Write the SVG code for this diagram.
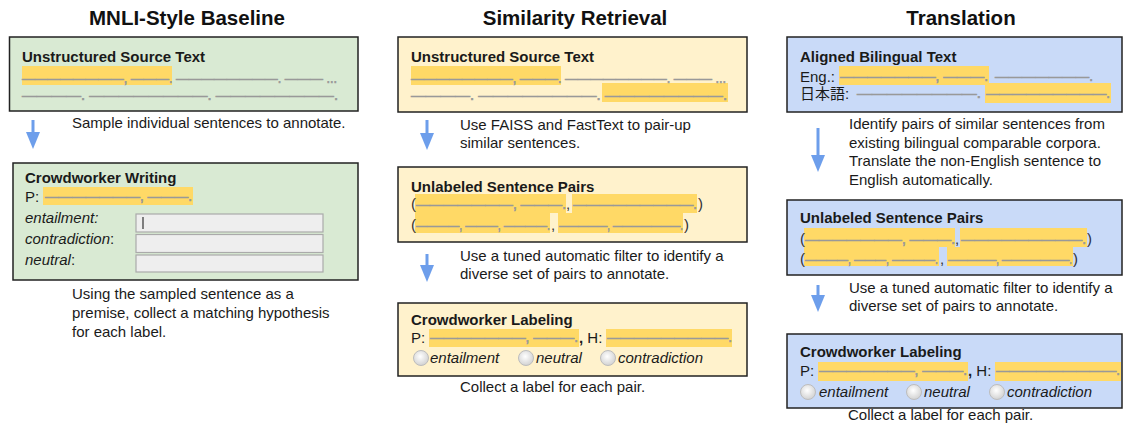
<svg xmlns="http://www.w3.org/2000/svg" width="1129" height="429" viewBox="0 0 1129 429">
<style>
.box{stroke:#222;stroke-width:1.5}
.green{fill:#d9ead3}.yellow{fill:#fff2cc}.blue{fill:#c9daf8}
.hl{fill:#ffd966}
text{font-family:"Liberation Sans",Arial,"Noto Sans CJK JP",sans-serif;font-size:15px;fill:#1a1a1a}
.b{font-weight:bold}
.i{font-style:italic}
.title{font-size:20.5px;font-weight:bold;text-anchor:middle;fill:#111}
.d{fill:#999;stroke:#999;stroke-width:0.7}
.p{fill:#333}
.inp{fill:#eeeeee;stroke:#aaaaaa;stroke-width:1.2}
.radio{fill:url(#rg);stroke:#bdbdbd;stroke-width:1}
.arr{stroke:#6d9eeb;stroke-width:3;fill:none;marker-end:url(#ah)}
</style>
<defs>
<marker id="ah" viewBox="0 0 17 14" refX="0" refY="7" markerWidth="17" markerHeight="14" markerUnits="userSpaceOnUse" orient="auto">
<path d="M0,0 L17,7 L0,14 z" fill="#6d9eeb"/>
</marker>
<radialGradient id="rg" cx="0.45" cy="0.4" r="0.6">
<stop offset="0" stop-color="#ffffff"/>
<stop offset="1" stop-color="#d2d2d2"/>
</radialGradient>
</defs>

<g id="titles">
<text class="title" x="187" y="25">MNLI-Style Baseline</text>
<text class="title" x="575" y="25">Similarity Retrieval</text>
<text class="title" x="961" y="25">Translation</text>
</g>

<g id="connectors">
<line class="arr" x1="33" y1="120" x2="33" y2="132"/>
<line class="arr" x1="427" y1="120" x2="427" y2="133"/>
<line class="arr" x1="427" y1="254" x2="427" y2="265"/>
<line class="arr" x1="818" y1="128" x2="818" y2="155"/>
<line class="arr" x1="818" y1="285" x2="818" y2="295"/>
</g>

<!-- Panel 1 -->
<g id="p1-source">
<rect class="box green" x="9.5" y="37" width="348.5" height="74"/>
<text class="b" x="22" y="62">Unstructured Source Text</text>
<rect class="hl" x="22" y="66" width="150" height="19"/>
<text class="d" x="22" y="83" textLength="315" lengthAdjust="spacingAndGlyphs">————————, ———. ————————. ——— ...</text>
<text class="d" x="22" y="100" textLength="316" lengthAdjust="spacingAndGlyphs">————. ————————. ————————.</text>
</g>
<g id="p1-note1">
<text x="72" y="128">Sample individual sentences to annotate.</text>
</g>
<g id="p1-writing">
<rect class="box green" x="13" y="163" width="345" height="117"/>
<text class="b" x="25" y="183">Crowdworker Writing</text>
<text x="25" y="202">P:</text>
<rect class="hl" x="43" y="187" width="150" height="18"/>
<text class="d" x="45" y="201" textLength="147" lengthAdjust="spacingAndGlyphs">———————, ———.</text>
<text class="i" x="25" y="223">entailment:</text>
<text x="25" y="244"><tspan class="i">contradiction</tspan>:</text>
<text x="25" y="265"><tspan class="i">neutral</tspan>:</text>
<rect class="inp" x="136" y="214" width="187" height="18"/>
<rect class="inp" x="136" y="234.5" width="187" height="18"/>
<rect class="inp" x="136" y="255" width="187" height="17"/>
<line x1="143" y1="217" x2="143" y2="229" stroke="#333" stroke-width="1.2"/>
</g>
<g id="p1-note2">
<text x="72" y="299">Using the sampled sentence as a</text>
<text x="72" y="318">premise, collect a matching hypothesis</text>
<text x="72" y="337">for each label.</text>
</g>

<!-- Panel 2 -->
<g id="p2-source">
<rect class="box yellow" x="398" y="37" width="349" height="75"/>
<text class="b" x="411" y="62">Unstructured Source Text</text>
<rect class="hl" x="411" y="66" width="150" height="19"/>
<rect class="hl" x="602" y="83" width="126" height="19"/>
<text class="d" x="411" y="83" textLength="315" lengthAdjust="spacingAndGlyphs">————————, ———. ————————. ——— ...</text>
<text class="d" x="411" y="100" textLength="316" lengthAdjust="spacingAndGlyphs">————. ————————. ————————.</text>
</g>
<g id="p2-note1">
<text x="460" y="130">Use FAISS and FastText to pair-up</text>
<text x="460" y="148">similar sentences.</text>
</g>
<g id="p2-pairs">
<rect class="box yellow" x="398" y="167" width="349" height="75"/>
<text class="b" x="411" y="192">Unlabeled Sentence Pairs</text>
<rect class="hl" x="415" y="194" width="151" height="19"/>
<rect class="hl" x="572" y="194" width="125" height="19"/>
<rect class="hl" x="415" y="213" width="135" height="20"/>
<rect class="hl" x="558" y="213" width="125" height="20"/>
<text class="p" x="411" y="209">(</text>
<text class="d" x="416" y="209" textLength="150" lengthAdjust="spacingAndGlyphs">———————, ———.</text>
<text class="p" x="566" y="209">,</text>
<text class="d" x="573" y="209" textLength="124" lengthAdjust="spacingAndGlyphs">—————————.</text>
<text class="p" x="698" y="209">)</text>
<text class="p" x="411" y="230">(</text>
<text class="d" x="416" y="230" textLength="134" lengthAdjust="spacingAndGlyphs">————, ———, ————.</text>
<text class="p" x="551" y="230">,</text>
<text class="d" x="559" y="230" textLength="124" lengthAdjust="spacingAndGlyphs">—————, ———————.</text>
<text class="p" x="684" y="230">)</text>
</g>
<g id="p2-note2">
<text x="460" y="261">Use a tuned automatic filter to identify a</text>
<text x="460" y="279">diverse set of pairs to annotate.</text>
</g>
<g id="p2-labeling">
<rect class="box yellow" x="398" y="303" width="349" height="73"/>
<text class="b" x="411" y="325">Crowdworker Labeling</text>
<text x="411" y="343">P:</text>
<rect class="hl" x="429" y="329" width="150" height="18"/>
<rect class="hl" x="606" y="329" width="126" height="18"/>
<text class="d" x="430" y="342" textLength="148" lengthAdjust="spacingAndGlyphs">———————, ———.</text>
<text x="579" y="343"><tspan class="b">,</tspan> H:</text>
<text class="d" x="607" y="342" textLength="125" lengthAdjust="spacingAndGlyphs">—————————.</text>
<circle class="radio" cx="421" cy="358" r="7.5"/>
<circle class="radio" cx="526" cy="358" r="7.5"/>
<circle class="radio" cx="608" cy="358" r="7.5"/>
<text class="i" x="430" y="363">entailment</text>
<text class="i" x="536" y="363">neutral</text>
<text class="i" x="618" y="363">contradiction</text>
</g>
<g id="p2-note3">
<text x="460" y="392">Collect a label for each pair.</text>
</g>

<!-- Panel 3 -->
<g id="p3-bilingual">
<rect class="box blue" x="787" y="37" width="335" height="75"/>
<text class="b" x="800" y="62">Aligned Bilingual Text</text>
<text x="800" y="82">Eng.:</text>
<rect class="hl" x="839" y="66" width="150" height="19"/>
<text class="d" x="840" y="81" textLength="148" lengthAdjust="spacingAndGlyphs">———————, ———.</text>
<text class="d" x="995" y="81" textLength="98" lengthAdjust="spacingAndGlyphs">———————.</text>
<text x="800" y="99">日本語:</text>
<rect class="hl" x="985" y="83" width="126" height="20"/>
<text class="d" x="857" y="98" textLength="124" lengthAdjust="spacingAndGlyphs">————————.</text>
<text class="d" x="986" y="98" textLength="124" lengthAdjust="spacingAndGlyphs">—————————.</text>
</g>
<g id="p3-note1">
<text x="849" y="129">Identify pairs of similar sentences from</text>
<text x="849" y="148">existing bilingual comparable corpora.</text>
<text x="849" y="166">Translate the non-English sentence to</text>
<text x="849" y="185">English automatically.</text>
</g>
<g id="p3-pairs">
<rect class="box blue" x="787" y="200" width="335" height="75"/>
<text class="b" x="800" y="223">Unlabeled Sentence Pairs</text>
<rect class="hl" x="804" y="228" width="151" height="19"/>
<rect class="hl" x="960" y="228" width="127" height="19"/>
<rect class="hl" x="804" y="247" width="135" height="19"/>
<rect class="hl" x="947" y="247" width="126" height="19"/>
<text class="p" x="800" y="244">(</text>
<text class="d" x="805" y="244" textLength="150" lengthAdjust="spacingAndGlyphs">———————, ———.</text>
<text class="p" x="955" y="244">,</text>
<text class="d" x="961" y="244" textLength="125" lengthAdjust="spacingAndGlyphs">—————————.</text>
<text class="p" x="1087" y="244">)</text>
<text class="p" x="800" y="264">(</text>
<text class="d" x="805" y="264" textLength="133" lengthAdjust="spacingAndGlyphs">————, ———, ————.</text>
<text class="p" x="940" y="264">,</text>
<text class="d" x="948" y="264" textLength="124" lengthAdjust="spacingAndGlyphs">—————, ———————.</text>
<text class="p" x="1073" y="264">)</text>
</g>
<g id="p3-note2">
<text x="849" y="293">Use a tuned automatic filter to identify a</text>
<text x="849" y="311">diverse set of pairs to annotate.</text>
</g>
<g id="p3-labeling">
<rect class="box blue" x="787" y="334" width="335" height="74"/>
<text class="b" x="800" y="357">Crowdworker Labeling</text>
<text x="800" y="376">P:</text>
<rect class="hl" x="818" y="362" width="150" height="19"/>
<rect class="hl" x="995" y="362" width="126" height="19"/>
<text class="d" x="819" y="375" textLength="148" lengthAdjust="spacingAndGlyphs">———————, ———.</text>
<text x="968" y="376"><tspan class="b">,</tspan> H:</text>
<text class="d" x="996" y="375" textLength="124" lengthAdjust="spacingAndGlyphs">—————————.</text>
<circle class="radio" cx="808" cy="392" r="7.5"/>
<circle class="radio" cx="914" cy="392" r="7.5"/>
<circle class="radio" cx="997" cy="392" r="7.5"/>
<text class="i" x="819" y="397">entailment</text>
<text class="i" x="924" y="397">neutral</text>
<text class="i" x="1007" y="397">contradiction</text>
</g>
<g id="p3-note3">
<text x="848" y="420">Collect a label for each pair.</text>
</g>
</svg>
